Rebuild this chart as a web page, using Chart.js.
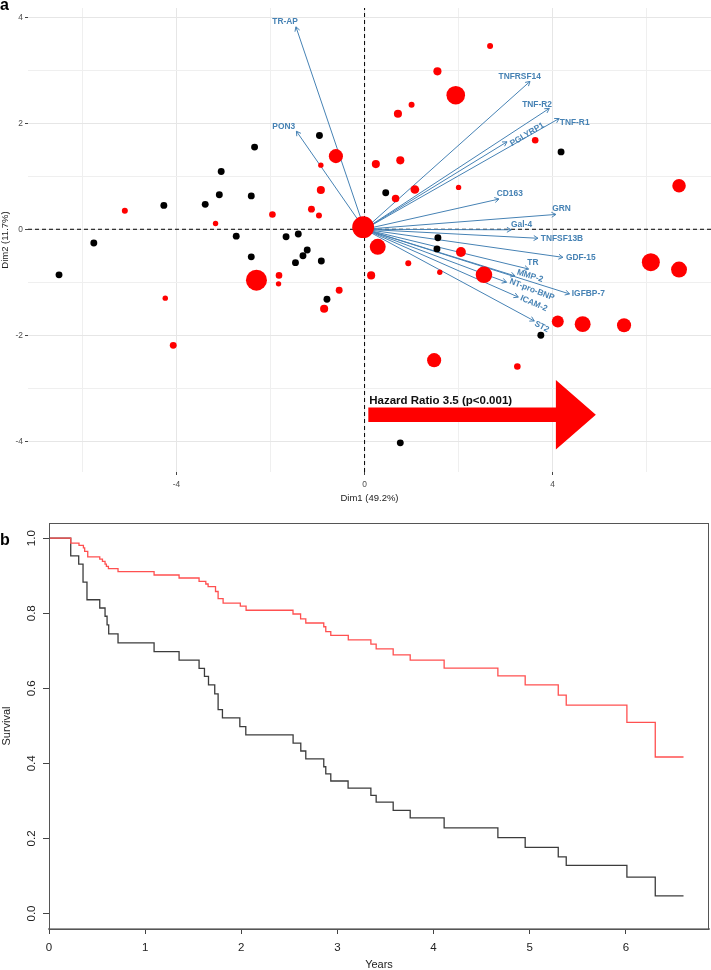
<!DOCTYPE html>
<html>
<head>
<meta charset="utf-8">
<script src="https://cdn.jsdelivr.net/npm/chart.js@4"></script>
<style>
  body { margin: 0; background: #fff; width: 711px; height: 970px; position: relative; overflow: hidden; }
  .tag { position: absolute; left: 0; font: bold 16px "Liberation Sans", Arial, sans-serif; line-height: 18px; }
  #wrap-a { position: absolute; left: 0; top: 0; width: 711px; height: 505px; }
  #wrap-b { position: absolute; left: 0; top: 510px; width: 711px; height: 460px; }
</style>
</head>
<body>
<div id="wrap-a"><canvas id="chart-pca"></canvas></div>
<div id="wrap-b"><canvas id="chart-km"></canvas></div>
<div class="tag" style="top:-4px">a</div>
<div class="tag" style="top:531px">b</div>
<script>
// ---- panel a : PCA biplot ----
const blackX = [-6.50, -5.76, -4.27, -3.39, -3.05, -3.09, -2.41, -2.34, -0.96, -2.73, -2.41, -1.67,
  -1.41, -1.47, -1.31, -1.22, -0.92, -0.80, 0.45, 4.18, 1.56, 1.54, 3.75, 0.76];
const blackY = [-0.86, -0.26, 0.45, 0.47, 1.09, 0.65, 0.63, 1.55, 1.77, -0.13, -0.52, -0.14,
  -0.09, -0.63, -0.50, -0.39, -0.60, -1.32, 0.69, 1.46, -0.16, -0.37, -2.00, -4.03];

const redX = [-5.10, -3.17, -4.24, -4.07, -1.96, -1.13, -0.97, -0.93, -0.93, -0.61, -2.30, -1.82,
  -1.83, -0.54, -0.86, -0.03, 0.28, 0.14, 0.93, 1.60, 2.05, 2.54, 0.24, 0.76, 0.66, 1.07, 2.00,
  0.71, 1.00, 1.55, 1.94, 2.67, 3.63, 6.69, 6.09, 6.69, 4.11, 4.64, 5.52, 1.48, 3.25];
const redY = [0.35, 0.11, -1.30, -2.19, 0.28, 0.38, 0.26, 0.74, 1.21, 1.38, -0.96, -0.87,
  -1.03, -1.15, -1.50, 0.04, -0.33, -0.87, -0.64, -0.81, -0.43, -0.86, 1.23, 1.30, 0.58, 0.75, 0.79,
  2.18, 2.35, 2.98, 2.53, 3.46, 1.68, 0.82, -0.62, -0.76, -1.74, -1.79, -1.81, -2.47, -2.59];
// size aesthetic of the red points
const redSizeValue = [2.0, 1.8, 1.8, 2.3, 2.2, 2.3, 2.0, 2.7, 1.8, 4.7, 7.0, 2.2,
  1.8, 2.3, 2.7, 7.3, 5.3, 2.7, 2.0, 1.8, 3.3, 5.5, 2.7, 2.7, 2.5, 2.9, 1.8,
  2.7, 2.0, 2.7, 6.2, 2.0, 2.2, 4.5, 6.0, 5.3, 4.0, 5.3, 4.7, 4.7, 2.2];
const blackSizeValue = 2.3;

const loadingNames = ["TR-AP", "PON3", "TNFRSF14", "TNF-R2", "TNF-R1", "PGLYRP1", "CD163", "GRN",
  "Gal-4", "TNFSF13B", "GDF-15", "TR", "MMP-2", "IGFBP-7", "NT-pro-BNP", "ICAM-2", "ST2"];
const loadingX = [-1.46, -1.45, 3.52, 3.93, 4.14, 3.03, 2.86, 4.07, 3.12, 3.69, 4.22, 3.49, 3.20, 4.36, 3.02, 3.27, 3.61];
const loadingY = [3.82, 1.85, 2.79, 2.28, 2.09, 1.65, 0.57, 0.28, -0.01, -0.17, -0.53, -0.75, -0.88, -1.22, -1.00, -1.28, -1.73];
const labelX = [-1.69, -1.72, 3.30, 3.67, 4.47, 3.46, 3.09, 4.19, 3.34, 4.20, 4.60, 3.58, 3.52, 4.76, 3.56, 3.60, 3.77];
const labelY = [3.92, 1.94, 2.87, 2.36, 2.02, 1.79, 0.67, 0.39, 0.09, -0.18, -0.53, -0.63, -0.88, -1.22, -1.14, -1.40, -1.84];
const labelAngle = [0, 0, 0, 0, 0, -31, 0, 0, 0, 0, 0, 0, 17, 0, 21, 24, 28];

const hazardText = "Hazard Ratio 3.5 (p<0.001)";

// ---- panel b : Kaplan-Meier ----
const redYears = [0.226, 0.312, 0.358, 0.371, 0.403, 0.528, 0.556, 0.583, 0.597, 0.618, 0.718, 1.093,
  1.353, 1.561, 1.631, 1.655, 1.732, 1.759, 1.811, 1.990, 2.050, 2.538, 2.617, 2.671, 2.858, 2.879,
  2.931, 3.113, 3.348, 3.403, 3.580, 3.757, 4.110, 4.669, 4.953, 5.297, 5.380, 6.011, 6.306];
const redSurvival = [0.987, 0.981, 0.974, 0.965, 0.950, 0.944, 0.938, 0.931, 0.925, 0.919, 0.911, 0.902,
  0.894, 0.885, 0.878, 0.871, 0.858, 0.839, 0.827, 0.819, 0.808, 0.798, 0.785, 0.774, 0.764, 0.751,
  0.741, 0.729, 0.718, 0.705, 0.689, 0.675, 0.654, 0.633, 0.609, 0.582, 0.555, 0.509, 0.417];
const blackYears = [0.226, 0.309, 0.354, 0.395, 0.528, 0.583, 0.604, 0.621, 0.718, 1.093, 1.353, 1.561,
  1.617, 1.659, 1.724, 1.759, 1.804, 1.985, 2.047, 2.539, 2.619, 2.671, 2.858, 2.879, 2.931, 3.111,
  3.348, 3.403, 3.580, 3.757, 4.110, 4.669, 4.953, 5.297, 5.380, 6.011, 6.306];
const blackSurvival = [0.953, 0.931, 0.883, 0.836, 0.814, 0.792, 0.769, 0.745, 0.721, 0.698, 0.675, 0.653,
  0.632, 0.609, 0.585, 0.543, 0.521, 0.498, 0.476, 0.454, 0.433, 0.412, 0.391, 0.372, 0.353, 0.334,
  0.315, 0.297, 0.275, 0.255, 0.228, 0.202, 0.176, 0.151, 0.128, 0.097, 0.047];
const followUpEnd = 6.6;

const FONT = '"Liberation Sans", Arial, sans-serif';
Chart.defaults.font.family = FONT;
const STEEL = "#4682b4";

const A_XMIN = -7.16, A_XMAX = 7.37, A_YMIN = -4.58, A_YMAX = 4.175;

function radiusFor(v) {
  return 1.5 * v;
}

function zip(xs, ys) {
  return xs.map((x, i) => ({ x: x, y: ys[i] }));
}

// arrow heads, gene labels and the hazard ratio arrow
const biplotDecor = {
  id: "biplotDecor",
  afterDatasetDraw(chart, args) {
    const ds = chart.data.datasets[args.index];
    if (!ds.arrowHead) return;
    const [a, b] = args.meta.data;
    const ang = Math.atan2(b.y - a.y, b.x - a.x);
    const len = 5;
    const ctx = chart.ctx;
    ctx.save();
    ctx.strokeStyle = STEEL;
    ctx.lineWidth = 1;
    ctx.beginPath();
    ctx.moveTo(b.x - len * Math.cos(ang - Math.PI / 6), b.y - len * Math.sin(ang - Math.PI / 6));
    ctx.lineTo(b.x, b.y);
    ctx.lineTo(b.x - len * Math.cos(ang + Math.PI / 6), b.y - len * Math.sin(ang + Math.PI / 6));
    ctx.stroke();
    ctx.restore();
  },
  afterDatasetsDraw(chart) {
    const ctx = chart.ctx;
    const sx = chart.scales.x, sy = chart.scales.y;
    ctx.save();
    ctx.fillStyle = STEEL;
    ctx.font = "bold 8.4px " + FONT;
    ctx.textAlign = "center";
    ctx.textBaseline = "middle";
    loadingNames.forEach((name, i) => {
      ctx.save();
      ctx.translate(sx.getPixelForValue(labelX[i]), sy.getPixelForValue(labelY[i]));
      ctx.rotate(labelAngle[i] * Math.PI / 180);
      ctx.fillText(name, 0, 0);
      ctx.restore();
    });

    // big red arrow
    const x0 = sx.getPixelForValue(0.08), xb = sx.getPixelForValue(4.07), xt = sx.getPixelForValue(4.92);
    const yc = sy.getPixelForValue(-3.5);
    const shaft = sy.getPixelForValue(-3.5 - 0.136) - yc;
    const head = sy.getPixelForValue(-3.5 - 0.654) - yc;
    ctx.fillStyle = "#ff0000";
    ctx.beginPath();
    ctx.moveTo(x0, yc - shaft);
    ctx.lineTo(xb, yc - shaft);
    ctx.lineTo(xb, yc - head);
    ctx.lineTo(xt, yc);
    ctx.lineTo(xb, yc + head);
    ctx.lineTo(xb, yc + shaft);
    ctx.lineTo(x0, yc + shaft);
    ctx.closePath();
    ctx.fill();
    ctx.fillStyle = "#111";
    ctx.font = "bold 11.5px " + FONT;
    ctx.textAlign = "left";
    ctx.textBaseline = "alphabetic";
    ctx.fillText(hazardText, sx.getPixelForValue(0.1), sy.getPixelForValue(-3.30));
    ctx.restore();
  }
};

const arrowSets = loadingNames.map((name, i) => ({
  label: name,
  data: [{ x: 0, y: 0 }, { x: loadingX[i], y: loadingY[i] }],
  showLine: true,
  borderColor: STEEL,
  borderWidth: 1,
  pointRadius: 0,
  arrowHead: true,
  order: 2
}));

new Chart("chart-pca", {
  type: "scatter",
  data: {
    datasets: [
      {
        label: "high",
        data: zip(redX, redY),
        backgroundColor: "#ff0000",
        borderWidth: 0,
        pointRadius: redSizeValue.map(radiusFor),
        order: 0
      },
      {
        label: "low",
        data: zip(blackX, blackY),
        backgroundColor: "#000000",
        borderWidth: 0,
        pointRadius: radiusFor(blackSizeValue),
        order: 1
      },
      ...arrowSets,
      {
        label: "zero-x",
        data: [{ x: A_XMIN, y: 0 }, { x: A_XMAX, y: 0 }],
        showLine: true, borderColor: "#000", borderWidth: 1, borderDash: [4, 3], pointRadius: 0, order: 3
      },
      {
        label: "zero-y",
        data: [{ x: 0, y: A_YMIN }, { x: 0, y: A_YMAX }],
        showLine: true, borderColor: "#000", borderWidth: 1, borderDash: [4, 3], pointRadius: 0, order: 3
      }
    ]
  },
  options: {
    animation: false,
    responsive: true,
    maintainAspectRatio: false,
    events: [],
    layout: { autoPadding: false, padding: { top: 8, left: 0, right: 0, bottom: 0 } },
    plugins: { legend: { display: false }, tooltip: { enabled: false } },
    scales: {
      x: {
        type: "linear",
        min: A_XMIN, max: A_XMAX,
        afterFit: (s) => { s.height = 33; },
        border: { display: false },
        grid: {
          color: (c) => (c.tick && c.tick.value % 4 === 0 ? "#e6e6e6" : "#efefef"),
          lineWidth: 1,
          tickLength: 3,
          tickColor: (c) => (c.tick && c.tick.value % 4 === 0 ? "#444" : "rgba(0,0,0,0)")
        },
        ticks: {
          stepSize: 2, includeBounds: false, autoSkip: false, maxRotation: 0, padding: 5,
          color: "#4d4d4d", font: { size: 8.4 },
          callback: (v) => (v % 4 === 0 ? String(v) : "")
        },
        title: { display: true, text: "Dim1 (49.2%)", color: "#222", font: { size: 9.5 }, padding: { top: 0, bottom: 1 } }
      },
      y: {
        type: "linear",
        min: A_YMIN, max: A_YMAX,
        afterFit: (s) => { s.width = 28; },
        border: { display: false },
        grid: {
          color: (c) => (c.tick && c.tick.value % 2 === 0 ? "#e6e6e6" : "#efefef"),
          lineWidth: 1,
          tickLength: 3,
          tickColor: (c) => (c.tick && c.tick.value % 2 === 0 ? "#444" : "rgba(0,0,0,0)")
        },
        ticks: {
          stepSize: 1, includeBounds: false, autoSkip: false, padding: 2,
          color: "#4d4d4d", font: { size: 8.4 },
          callback: (v) => (v % 2 === 0 ? String(v) : "")
        },
        title: { display: true, text: "Dim2 (11.7%)", color: "#222", font: { size: 9.5 }, padding: { top: 0, bottom: 0 } }
      }
    }
  },
  plugins: [biplotDecor]
});

// ---- Kaplan-Meier ----
function kmPoints(years, surv) {
  const pts = [{ x: 0, y: 1 }];
  years.forEach((t, i) => pts.push({ x: t, y: surv[i] }));
  pts.push({ x: followUpEnd, y: surv[surv.length - 1] });
  return pts;
}

const boxFrame = {
  id: "boxFrame",
  afterDraw(chart) {
    const { ctx, chartArea: a } = chart;
    ctx.save();
    ctx.strokeStyle = "#555";
    ctx.lineWidth = 1;
    ctx.strokeRect(a.left + 0.5, a.top + 0.5, a.right - a.left - 1, a.bottom - a.top);
    ctx.restore();
  }
};

new Chart("chart-km", {
  type: "line",
  data: {
    datasets: [
      {
        label: "red",
        data: kmPoints(redYears, redSurvival),
        borderColor: "#ff5050",
        borderWidth: 1.3,
        stepped: "before",
        pointRadius: 0
      },
      {
        label: "black",
        data: kmPoints(blackYears, blackSurvival),
        borderColor: "#3c3c3c",
        borderWidth: 1.3,
        stepped: "before",
        pointRadius: 0
      }
    ]
  },
  options: {
    animation: false,
    responsive: true,
    maintainAspectRatio: false,
    events: [],
    layout: { autoPadding: false, padding: { top: 13, left: 0, right: 2, bottom: 0 } },
    plugins: { legend: { display: false }, tooltip: { enabled: false } },
    scales: {
      x: {
        type: "linear",
        min: 0, max: 6.865,
        afterFit: (s) => { s.height = 41; },
        border: { color: "#999", width: 2 },
        grid: { drawOnChartArea: false, tickLength: 5, color: "#444" },
        ticks: {
          stepSize: 1, includeBounds: false, autoSkip: false, maxRotation: 0, padding: 7,
          color: "#222", font: { size: 11.5 }
        },
        title: { display: true, text: "Years", color: "#222", font: { size: 11, lineHeight: 1 }, padding: { top: 0, bottom: 0 } }
      },
      y: {
        type: "linear",
        min: -0.0413, max: 1.0405,
        afterFit: (s) => { s.width = 49; },
        border: { color: "#444", width: 1 },
        grid: { drawOnChartArea: false, tickLength: 6, color: "#444" },
        ticks: {
          stepSize: 0.2, includeBounds: false, autoSkip: false,
          minRotation: 90, maxRotation: 90, crossAlign: "center", padding: 3,
          color: "#222", font: { size: 11.5 },
          callback: (v) => v.toFixed(1)
        },
        title: { display: true, text: "Survival", color: "#222", font: { size: 11 }, padding: { top: 0, bottom: 0 } }
      }
    }
  },
  plugins: [boxFrame]
});
</script>
</body>
</html>
